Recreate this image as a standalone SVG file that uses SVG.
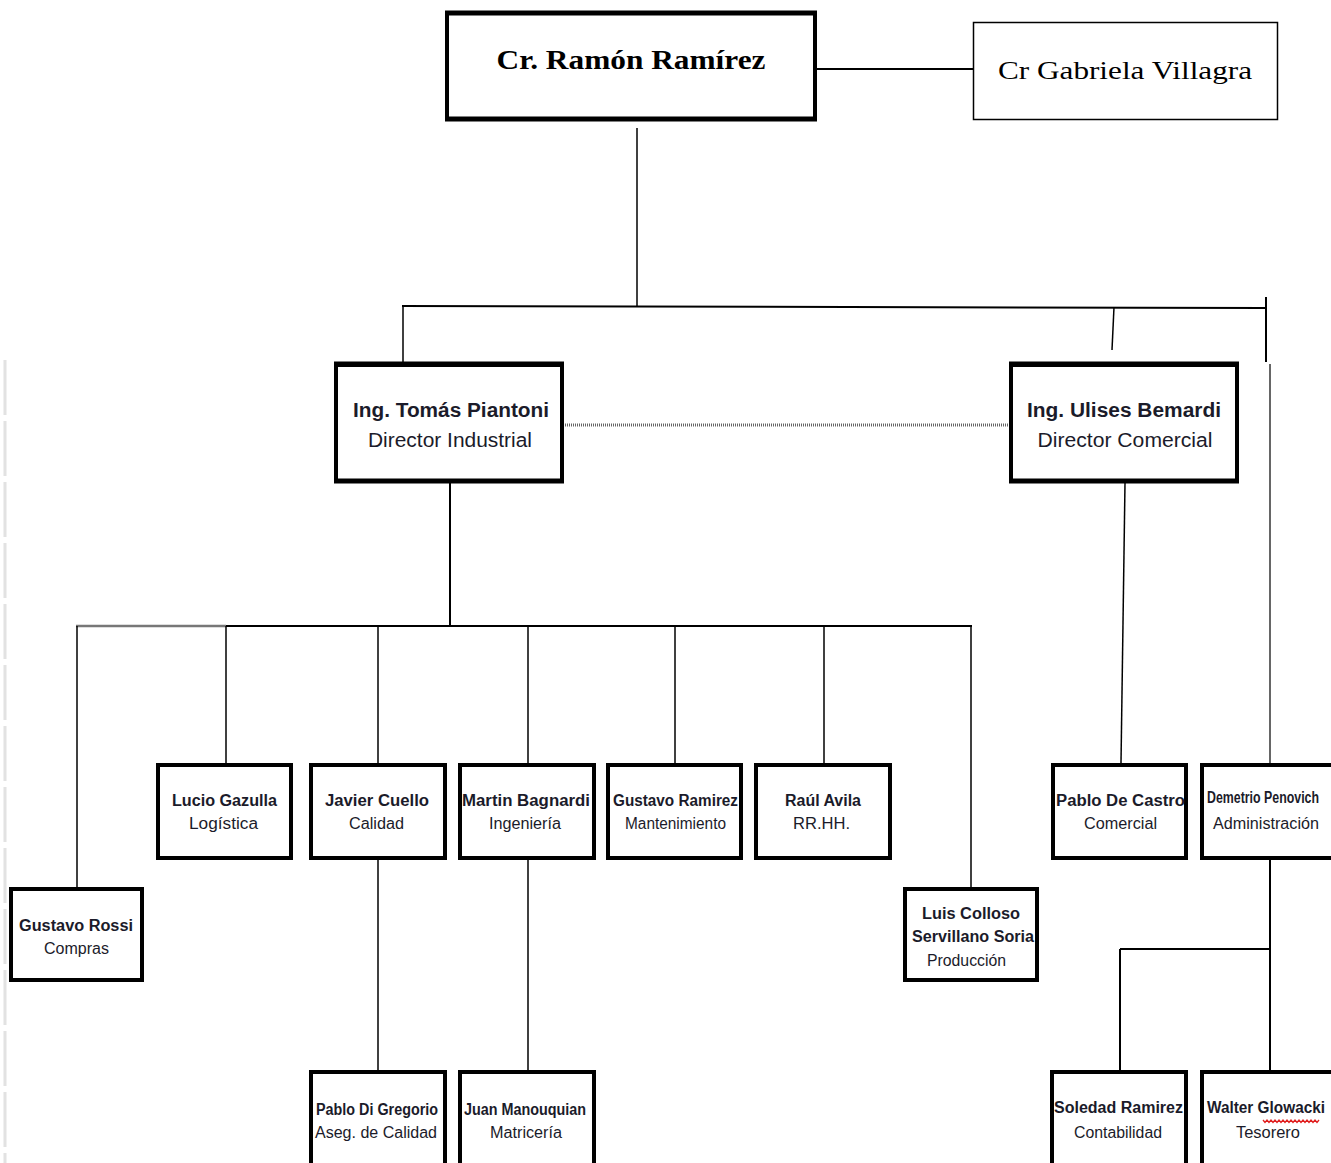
<svg xmlns="http://www.w3.org/2000/svg" width="1331" height="1163" viewBox="0 0 1331 1163">
<style>
.box{fill:#fff;stroke:#000;stroke-width:4}
.thin{fill:#fff;stroke:#000;stroke-width:1.5}
.ln{stroke:#000;stroke-width:2;fill:none}
.lt{stroke:#000;stroke-width:1.5;fill:none}
.serif{font-family:"Liberation Serif","Times New Roman",serif;fill:#000}
.dir{font-family:"Liberation Sans",Arial,sans-serif;font-size:20px;fill:#1b1b2a}
.nm{font-family:"Liberation Sans",Arial,sans-serif;font-size:16px;font-weight:bold;fill:#1b1b2a}
.rl{font-family:"Liberation Sans",Arial,sans-serif;font-size:16px;fill:#1b1b2a}
</style>
<rect width="1331" height="1163" fill="#fff"/>
<line x1="5" y1="360" x2="5" y2="1163" stroke="#e2e2e2" stroke-width="3" stroke-dasharray="55 6"/>
<g id="connectors">
<line class="ln" x1="817" y1="69" x2="973" y2="69"/>
<line class="lt" x1="637" y1="128" x2="637" y2="306"/>
<line class="ln" x1="402" y1="306" x2="1266" y2="308"/>
<line class="lt" x1="403" y1="306" x2="403" y2="375"/>
<line class="lt" x1="1114" y1="307" x2="1112" y2="350"/>
<line class="ln" x1="1266" y1="297" x2="1266" y2="362"/>
<line x1="1270" y1="364" x2="1270" y2="765" stroke="#333" stroke-width="1.5"/>
<line x1="563" y1="425" x2="1010" y2="425" stroke="#666" stroke-width="3" stroke-dasharray="1 1"/>
<line class="ln" x1="450" y1="483" x2="450" y2="626"/>
<line x1="76" y1="626" x2="226" y2="626" stroke="#777" stroke-width="2.5"/>
<line class="ln" x1="226" y1="626" x2="972" y2="626"/>
<line class="lt" x1="77" y1="626" x2="77" y2="887"/>
<line class="lt" x1="226" y1="626" x2="226" y2="763"/>
<line class="lt" x1="378" y1="626" x2="378" y2="763"/>
<line class="lt" x1="528" y1="626" x2="528" y2="763"/>
<line class="lt" x1="675" y1="626" x2="675" y2="763"/>
<line class="lt" x1="824" y1="626" x2="824" y2="763"/>
<line class="lt" x1="971" y1="626" x2="971" y2="887"/>
<line class="lt" x1="378" y1="860" x2="378" y2="1070"/>
<line class="lt" x1="528" y1="860" x2="528" y2="1070"/>
<line class="lt" x1="1125" y1="483" x2="1121" y2="763"/>
<line class="ln" x1="1270" y1="860" x2="1270" y2="1070"/>
<line class="ln" x1="1120" y1="949" x2="1270" y2="949"/>
<line class="ln" x1="1120" y1="949" x2="1120" y2="1070"/>
</g>
<g id="n-ramon">
<rect class="box" x="447" y="13" width="368" height="106"/>
<line x1="445" y1="13" x2="817" y2="13" stroke="#000" stroke-width="5"/>
<line x1="445" y1="119" x2="817" y2="119" stroke="#000" stroke-width="5"/>
<text class="serif" x="631" y="69" font-size="28" font-weight="bold" text-anchor="middle" textLength="269" lengthAdjust="spacingAndGlyphs">Cr. Ramón Ramírez</text>
</g>
<g id="n-gabriela">
<rect class="thin" x="973.5" y="22.5" width="304" height="97"/>
<text class="serif" x="1125" y="79" font-size="26" text-anchor="middle" textLength="254" lengthAdjust="spacingAndGlyphs">Cr Gabriela Villagra</text>
</g>
<g id="n-tomas">
<rect class="box" x="336" y="365" width="226" height="116"/>
<line x1="334" y1="364" x2="564" y2="364" stroke="#000" stroke-width="5"/>
<line x1="334" y1="481" x2="564" y2="481" stroke="#000" stroke-width="5"/>
<text class="dir" x="451" y="417" font-weight="bold" text-anchor="middle" textLength="196" lengthAdjust="spacingAndGlyphs">Ing. Tomás Piantoni</text>
<text class="dir" x="450" y="447" text-anchor="middle" textLength="164" lengthAdjust="spacingAndGlyphs">Director Industrial</text>
</g>
<g id="n-ulises">
<rect class="box" x="1011" y="365" width="226" height="116"/>
<line x1="1009" y1="364" x2="1239" y2="364" stroke="#000" stroke-width="5"/>
<line x1="1009" y1="481" x2="1239" y2="481" stroke="#000" stroke-width="5"/>
<text class="dir" x="1124" y="417" font-weight="bold" text-anchor="middle" textLength="194" lengthAdjust="spacingAndGlyphs">Ing. Ulises Bemardi</text>
<text class="dir" x="1125" y="447" text-anchor="middle" textLength="175" lengthAdjust="spacingAndGlyphs">Director Comercial</text>
</g>
<g id="n-lucio">
<rect class="box" x="158" y="765" width="133" height="93"/>
<text class="nm" x="224.5" y="806" text-anchor="middle" textLength="105" lengthAdjust="spacingAndGlyphs">Lucio Gazulla</text>
<text class="rl" x="223.5" y="829" text-anchor="middle" textLength="69" lengthAdjust="spacingAndGlyphs">Logística</text>
</g>
<g id="n-javier">
<rect class="box" x="311" y="765" width="134" height="93"/>
<text class="nm" x="377" y="806" text-anchor="middle" textLength="104" lengthAdjust="spacingAndGlyphs">Javier  Cuello</text>
<text class="rl" x="376.5" y="829" text-anchor="middle" textLength="55" lengthAdjust="spacingAndGlyphs">Calidad</text>
</g>
<g id="n-martin">
<rect class="box" x="460" y="765" width="134" height="93"/>
<text class="nm" x="526" y="806" text-anchor="middle" textLength="128" lengthAdjust="spacingAndGlyphs">Martin Bagnardi</text>
<text class="rl" x="525" y="829" text-anchor="middle" textLength="72" lengthAdjust="spacingAndGlyphs">Ingeniería</text>
</g>
<g id="n-gramirez">
<rect class="box" x="608" y="765" width="133" height="93"/>
<text class="nm" x="675.5" y="806" font-size="14" text-anchor="middle" textLength="125" lengthAdjust="spacingAndGlyphs">Gustavo  Ramirez</text>
<text class="rl" x="675.5" y="829" text-anchor="middle" textLength="101" lengthAdjust="spacingAndGlyphs">Mantenimiento</text>
</g>
<g id="n-raul">
<rect class="box" x="756" y="765" width="134" height="93"/>
<text class="nm" x="823" y="806" text-anchor="middle" textLength="76" lengthAdjust="spacingAndGlyphs">Raúl Avila</text>
<text class="rl" x="821.5" y="829" text-anchor="middle" textLength="57" lengthAdjust="spacingAndGlyphs">RR.HH.</text>
</g>
<g id="n-rossi">
<rect class="box" x="11" y="889" width="131" height="91"/>
<text class="nm" x="76" y="931" text-anchor="middle" textLength="114" lengthAdjust="spacingAndGlyphs">Gustavo Rossi</text>
<text class="rl" x="76.5" y="954" text-anchor="middle" textLength="65" lengthAdjust="spacingAndGlyphs">Compras</text>
</g>
<g id="n-luis">
<rect class="box" x="905" y="889" width="132" height="91"/>
<text class="nm" x="971" y="919" text-anchor="middle" textLength="98" lengthAdjust="spacingAndGlyphs">Luis Colloso</text>
<text class="nm" x="973" y="942" text-anchor="middle" textLength="122" lengthAdjust="spacingAndGlyphs">Servillano  Soria</text>
<text class="rl" x="966.5" y="966" text-anchor="middle" textLength="79" lengthAdjust="spacingAndGlyphs">Producción</text>
</g>
<g id="n-decastro">
<rect class="box" x="1053" y="765" width="133" height="93"/>
<text class="nm" x="1120.5" y="806" text-anchor="middle" textLength="129" lengthAdjust="spacingAndGlyphs">Pablo  De Castro</text>
<text class="rl" x="1120.5" y="829" text-anchor="middle" textLength="73" lengthAdjust="spacingAndGlyphs">Comercial</text>
</g>
<g id="n-demetrio">
<path class="box" d="M1331 765 H1202 V858 H1331"/>
<text class="nm" x="1263" y="803" font-size="10" text-anchor="middle" textLength="112" lengthAdjust="spacingAndGlyphs">Demetrio    Penovich</text>
<text class="rl" x="1266" y="829" text-anchor="middle" textLength="106" lengthAdjust="spacingAndGlyphs">Administración</text>
</g>
<g id="n-digregorio">
<rect class="box" x="311" y="1072" width="134" height="100"/>
<text class="nm" x="377" y="1115" font-size="14" text-anchor="middle" textLength="122" lengthAdjust="spacingAndGlyphs">Pablo Di Gregorio</text>
<text class="rl" x="376" y="1138" text-anchor="middle" textLength="122" lengthAdjust="spacingAndGlyphs">Aseg. de Calidad</text>
</g>
<g id="n-juan">
<rect class="box" x="460" y="1072" width="134" height="100"/>
<text class="nm" x="525" y="1115" font-size="14" text-anchor="middle" textLength="122" lengthAdjust="spacingAndGlyphs">Juan  Manouquian</text>
<text class="rl" x="526" y="1138" text-anchor="middle" textLength="72" lengthAdjust="spacingAndGlyphs">Matricería</text>
</g>
<g id="n-soledad">
<rect class="box" x="1052" y="1072" width="134" height="100"/>
<text class="nm" x="1118.5" y="1113" text-anchor="middle" textLength="129" lengthAdjust="spacingAndGlyphs">Soledad Ramirez</text>
<text class="rl" x="1118" y="1138" text-anchor="middle" textLength="88" lengthAdjust="spacingAndGlyphs">Contabilidad</text>
</g>
<g id="n-walter">
<path class="box" d="M1331 1072 H1202 V1163"/>
<text class="nm" x="1266" y="1113" font-weight="normal" text-anchor="middle" textLength="118" lengthAdjust="spacingAndGlyphs">Walter Glowacki</text>
<path d="M1263 1120 l2 2.5 l2 -2.5 l2 2.5 l2 -2.5 l2 2.5 l2 -2.5 l2 2.5 l2 -2.5 l2 2.5 l2 -2.5 l2 2.5 l2 -2.5 l2 2.5 l2 -2.5 l2 2.5 l2 -2.5 l2 2.5 l2 -2.5 l2 2.5 l2 -2.5 l2 2.5 l2 -2.5 l2 2.5 l2 -2.5 l2 2.5 l2 -2.5 l2 2.5 l2 -2.5" fill="none" stroke="#e02020" stroke-width="1.3"/>
<text class="rl" x="1268" y="1138" text-anchor="middle" textLength="64" lengthAdjust="spacingAndGlyphs">Tesorero</text>
</g>
</svg>
